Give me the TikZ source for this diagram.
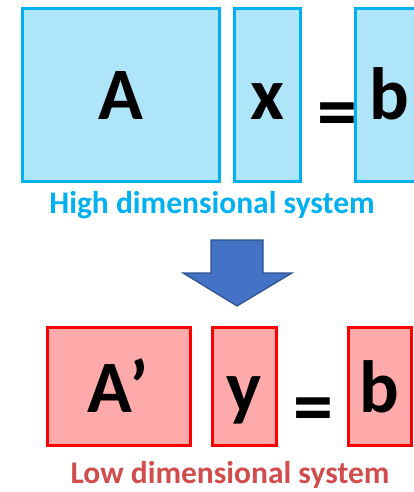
\documentclass[tikz,border=0pt]{standalone}
\usepackage{fontspec}
\setmainfont{Carlito}
\begin{document}
\begin{tikzpicture}[x=1pt,y=-1pt]
    \definecolor{myhighfill}{RGB}{174,229,249}
    \definecolor{myhighline}{RGB}{0,176,240}
    \definecolor{mylowfill}{RGB}{255,170,170}
    \definecolor{mylowline}{RGB}{255,0,0}
    \definecolor{mylowtext}{RGB}{209,77,77}
    \definecolor{myarrow}{RGB}{68,114,196}
    \definecolor{myarrowline}{RGB}{47,82,143}
    \tikzset{
        letter/.style={anchor=base, inner sep=0pt, font=\fontsize{74}{74}\selectfont\bfseries},
        eqsign/.style={anchor=base, inner sep=0pt, font=\fontsize{80}{80}\selectfont\bfseries},
        caption/.style={anchor=base, inner sep=0pt, font=\fontsize{31.5}{31.5}\selectfont\bfseries}
    }
    \useasboundingbox (0,0) rectangle (414,492);

    % high dimensional system
    \draw[myhighline, fill=myhighfill, line width=3pt] (22,9) rectangle (219,181);
    \draw[myhighline, fill=myhighfill, line width=3pt] (234,9) rectangle (300,181);
    \draw[myhighline, fill=myhighfill, line width=3pt] (355,9) rectangle (424,181);
    \node[letter] (hA) at (121,120) {A};
    \node[letter] (hx) at (267,120) {x};
    \node[eqsign] (heq) at (337,138) {=};
    \node[letter] (hb) at (389,120) {b};
    \node[caption, myhighline] (hcap) at (212,213) {High dimensional system};

    % reduction arrow
    \draw[myarrowline, fill=myarrow, line width=1.2pt, line join=miter]
        (211,240) -- (263,240) -- (263,273) -- (292,273) -- (237,306)
        -- (183,273) -- (211,273) -- cycle;

    % low dimensional system
    \draw[mylowline, fill=mylowfill, line width=3pt] (47,327) rectangle (190,445);
    \draw[mylowline, fill=mylowfill, line width=3pt] (212,327) rectangle (276,445);
    \draw[mylowline, fill=mylowfill, line width=3pt] (348,327) rectangle (411,445);
    \node[letter] (lA) at (118,412) {A’};
    \node[letter] (ly) at (244,412) {y};
    \node[eqsign] (leq) at (313,433) {=};
    \node[letter] (lb) at (379,412) {b};
    \node[caption, mylowtext] (lcap) at (230,483) {Low dimensional system};
\end{tikzpicture}
\end{document}
